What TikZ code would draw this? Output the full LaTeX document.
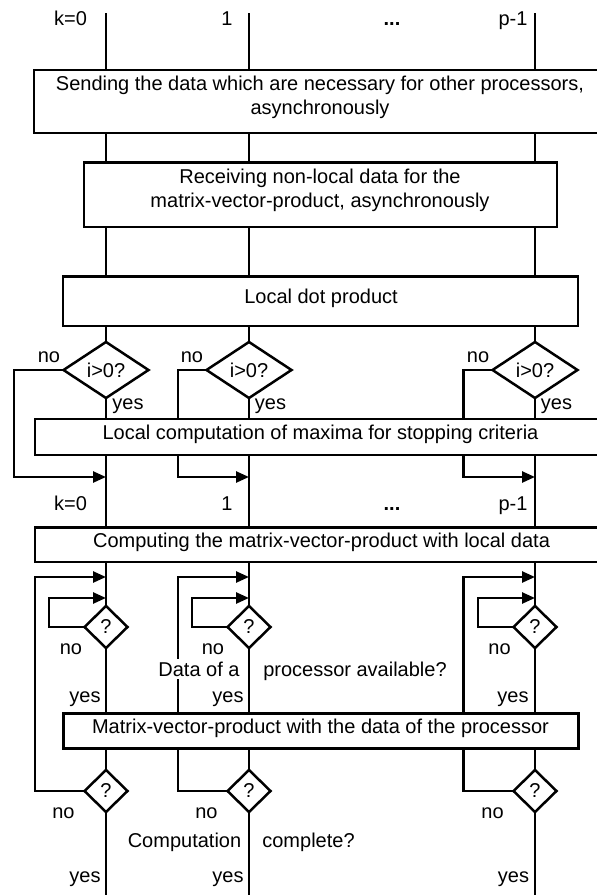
\documentclass[tikz,border=0pt]{standalone}
\usepackage{fontspec}
\setmainfont{Liberation Sans}
\usetikzlibrary{shapes.geometric,arrows.meta,backgrounds}
\begin{document}
\begin{tikzpicture}[x=1bp,y=-1bp,
  every node/.style={font=\fontsize{20bp}{24bp}\selectfont},
  ln/.style={line width=2.5bp},
  box/.style={draw, line width=2.5bp, fill=white, rectangle, inner sep=0pt, outer sep=0pt},
  lbl/.style={anchor=base, inner sep=0pt},
  lblw/.style={anchor=base, inner sep=3bp, fill=white},
  bigdia/.style={diamond, draw, line width=2.5bp, fill=white, aspect=1.5, inner sep=0pt, outer sep=0pt, minimum width=85bp, minimum height=56bp},
  smalldia/.style={diamond, draw, line width=2.5bp, fill=white, inner sep=0pt, outer sep=0pt, minimum width=43bp, minimum height=42bp},
  arr/.style={ln, -{Triangle[length=13bp,width=11bp]}}
]
\useasboundingbox (0,0) rectangle (597,895);
\clip (0,0) rectangle (597,895);

% processor lines end points
\coordinate (top0) at (106,13); \coordinate (bot0) at (106,896);
\coordinate (top1) at (249,13); \coordinate (bot1) at (249,896);
\coordinate (top2) at (535,13); \coordinate (bot2) at (535,896);

% top labels
\node[lbl] (k0a) at (70.5,25) {k=0};
\node[lbl] (k1a) at (227,25) {1};
\node[lbl] (kda) at (392,25) {\textbf{...}};
\node[lbl] (kpa) at (513,25) {p-1};

% boxes
\node[box, minimum width=572bp, minimum height=63bp] (b1) at (320,101.5) {};
\node[lbl] (t1a) at (320,90) {Sending the data which are necessary for other processors,};
\node[lbl] (t1b) at (320,114) {asynchronously};

\node[box, minimum width=473bp, minimum height=64.5bp] (b2) at (320.5,194.5) {};
\node[lbl] (t2a) at (320,183) {Receiving non-local data for the};
\node[lbl] (t2b) at (320,207) {matrix-vector-product, asynchronously};

\node[box, minimum width=515bp, minimum height=49.3bp] (b3) at (320.7,301.3) {};
\node[lbl] (t3) at (321,303) {Local dot product};

% upper decisions
\node[bigdia] (q0) at (106,370) {i>0?};
\node[bigdia] (q1) at (249,370) {i>0?};
\node[bigdia] (q2) at (535,370) {i>0?};
\node[lbl] (q0no) at (49,362) {no};
\node[lbl] (q1no) at (192,362) {no};
\node[lbl] (q2no) at (478,362) {no};
\node[lbl] (q0yes) at (128,409) {yes};
\node[lbl] (q1yes) at (270.5,409) {yes};
\node[lbl] (q2yes) at (556.5,409) {yes};

\node[box, minimum width=571bp, minimum height=36bp] (b4) at (320.5,437) {};
\node[lbl] (t4) at (320.5,439) {Local computation of maxima for stopping criteria};

\coordinate (q0n) at (14,477);  \coordinate (q0m) at (106,477);
\coordinate (q1n) at (178,477); \coordinate (q1m) at (249,477);
\coordinate (q2n) at (463.5,477); \coordinate (q2m) at (535,477);

% second labels
\node[lbl] (k0b) at (70.5,510) {k=0};
\node[lbl] (k1b) at (227,510) {1};
\node[lbl] (kdb) at (392,510) {\textbf{...}};
\node[lbl] (kpb) at (513,510) {p-1};

\node[box, minimum width=571bp, minimum height=34.5bp] (b5) at (320.5,544.5) {};
\node[lbl] (t5) at (321.5,547) {Computing the matrix-vector-product with local data};

% waiting decisions
\node[smalldia] (a0) at (106,627) {?};
\node[smalldia] (a1) at (249,627) {?};
\node[smalldia] (a2) at (535,627) {?};
\coordinate (a0n) at (49,598);  \coordinate (a0m) at (106,598);
\coordinate (a1n) at (192,598); \coordinate (a1m) at (249,598);
\coordinate (a2n) at (478,598); \coordinate (a2m) at (535,598);
\node[lbl] (a0no) at (71,654) {no};
\node[lbl] (a1no) at (213,654) {no};
\node[lbl] (a2no) at (499.5,654) {no};
\node[lblw] (da) at (199,676) {Data of a};
\node[lbl] (pa) at (355,676) {processor available?};
\node[lbl] (a0yes) at (85,702) {yes};
\node[lbl] (a1yes) at (228,702) {yes};
\node[lbl] (a2yes) at (513,702) {yes};

\node[box, minimum width=515.4bp, minimum height=35bp] (b6) at (321,730.8) {};
\node[lbl] (t6) at (320.5,733) {Matrix-vector-product with the data of the processor};

% completion decisions
\node[smalldia] (c0) at (106,791) {?};
\node[smalldia] (c1) at (249,791) {?};
\node[smalldia] (c2) at (535,791) {?};
\coordinate (c0n) at (35,577);  \coordinate (c0m) at (106,577);
\coordinate (c1n) at (178,577); \coordinate (c1m) at (249,577);
\coordinate (c2n) at (463.5,577); \coordinate (c2m) at (535,577);
\node[lbl] (c0no) at (63.5,818) {no};
\node[lbl] (c1no) at (206.5,818) {no};
\node[lbl] (c2no) at (492.5,818) {no};
\node[lbl] (cc) at (184.5,847) {Computation};
\node[lbl] (cp) at (308.5,847) {complete?};
\node[lbl] (c0yes) at (85,882) {yes};
\node[lbl] (c1yes) at (228,882) {yes};
\node[lbl] (c2yes) at (513.5,882) {yes};

\begin{scope}[on background layer]
  \draw[ln] (top0) -- (bot0);
  \draw[ln] (top1) -- (bot1);
  \draw[ln] (top2) -- (bot2);
  \draw[arr] (q0.west) -| (q0n) -- (q0m);
  \draw[arr] (q1.west) -| (q1n) -- (q1m);
  \draw[arr] (q2.west) -| (q2n) -- (q2m);
  \draw[arr] (a0.west) -| (a0n) -- (a0m);
  \draw[arr] (a1.west) -| (a1n) -- (a1m);
  \draw[arr] (a2.west) -| (a2n) -- (a2m);
  \draw[arr] (c0.west) -| (c0n) -- (c0m);
  \draw[arr] (c1.west) -| (c1n) -- (c1m);
  \draw[arr] (c2.west) -| (c2n) -- (c2m);
\end{scope}
\end{tikzpicture}
\end{document}
